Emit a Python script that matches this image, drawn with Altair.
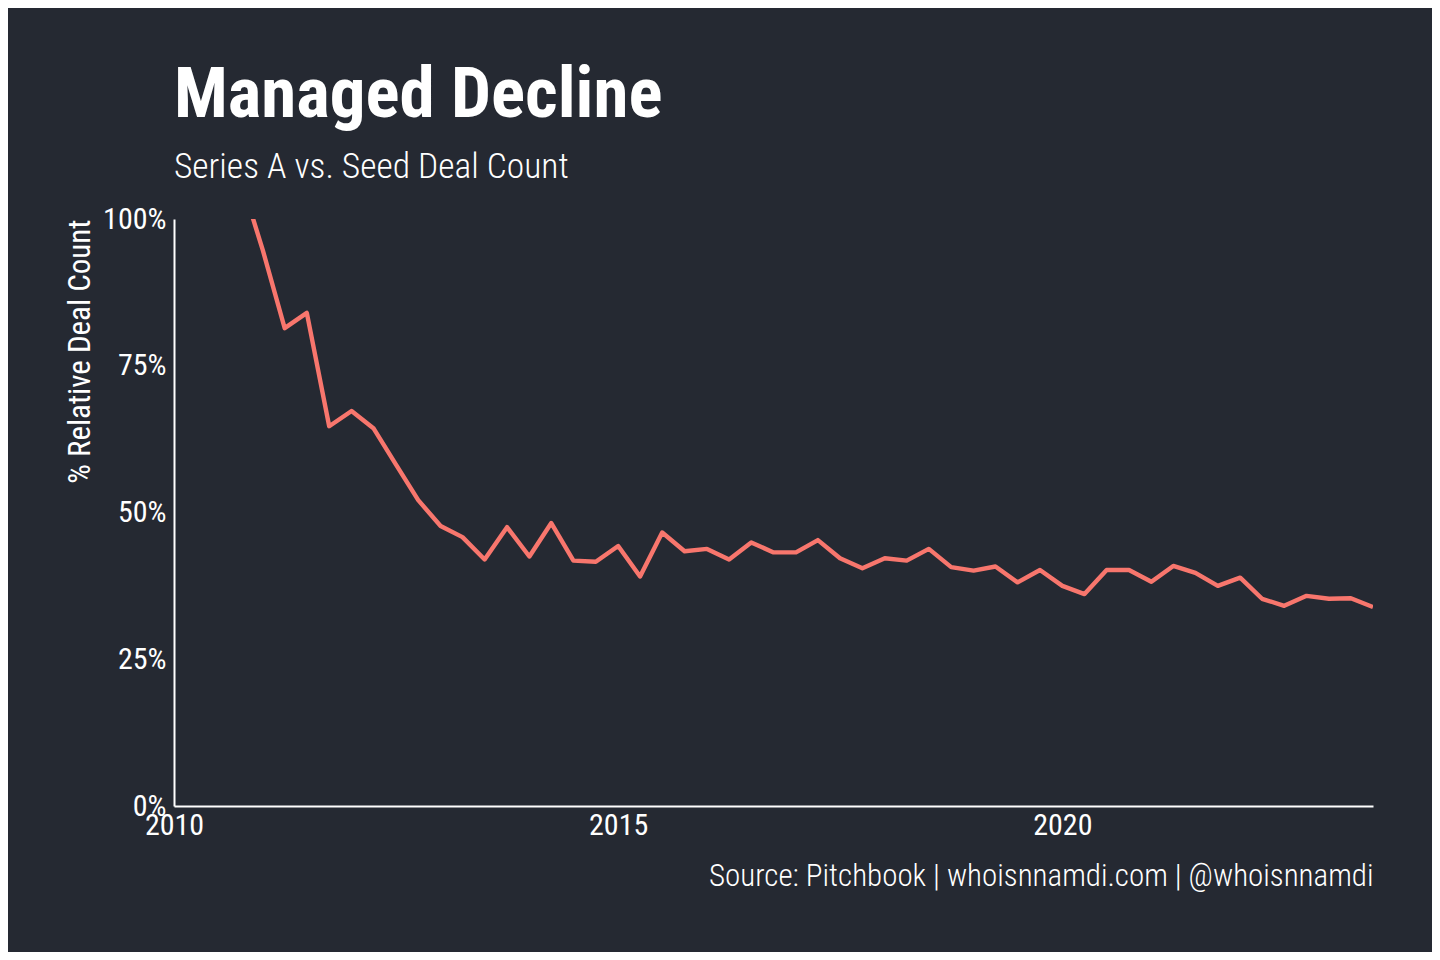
import altair as alt
import pandas as pd

# Quarterly series, starting 2010 Q4 (values in %)
start_period = "2010-10-01"
relative_deal_count = [
    107.0, 94.7, 81.4, 84.0, 64.7, 67.3, 64.3, 58.2, 52.1, 47.7,
    45.8, 42.0, 47.5, 42.5, 48.2, 41.8, 41.6, 44.3, 39.1, 46.6,
    43.4, 43.8, 42.0, 44.9, 43.2, 43.2, 45.3, 42.2, 40.5, 42.2,
    41.8, 43.8, 40.7, 40.1, 40.8, 38.1, 40.2, 37.5, 36.1, 40.2,
    40.2, 38.2, 40.9, 39.7, 37.5, 38.9, 35.3, 34.1, 35.8, 35.3,
    35.4, 33.9,
]
y_ticks = [0, 25, 50, 75, 100]
x_tick_years = [2010, 2015, 2020]
x_domain = ["2010-01-01", "2023-07-01"]

dates = pd.date_range(start_period, periods=len(relative_deal_count), freq="QS")
df = pd.DataFrame({"date": dates.strftime("%Y-%m-%d"), "value": relative_deal_count})

FONT = "Roboto Condensed, Roboto"
BG = "#252932"
WHITE = "#FFFFFF"

chart = (
    alt.Chart(df)
    .mark_line(color="#F8766D", strokeWidth=4.4, clip=True, strokeJoin="round")
    .encode(
        x=alt.X(
            "date:T",
            scale=alt.Scale(domain=x_domain),
            axis=alt.Axis(
                values=[alt.DateTime(year=y, month=1, date=1) for y in x_tick_years],
                format="%Y",
                labelFlush=False,
                title="Source: Pitchbook | whoisnnamdi.com | @whoisnnamdi",
                titleAnchor="end",
                titleFontSize=31,
                titleFontWeight=300,
                titlePadding=21,
                labelPadding=4,
            ),
        ),
        y=alt.Y(
            "value:Q",
            scale=alt.Scale(domain=[0, 100], nice=False, zero=True),
            axis=alt.Axis(
                values=y_ticks,
                labelExpr="datum.value + '%'",
                title="% Relative Deal Count",
                titleAnchor="end",
                titleFontSize=31,
                titleFontWeight=400,
                titlePadding=6,
                labelPadding=8,
            ),
        ),
    )
    .properties(
        width=1199,
        height=587,
        background=BG,
        autosize=alt.AutoSizeParams(type="none"),
        padding={"left": 166, "top": 211, "right": 59, "bottom": 146},
        title=alt.TitleParams(
            text="Managed Decline",
            subtitle="Series A vs. Seed Deal Count",
            anchor="start",
            frame="group",
            offset=18,
            subtitlePadding=18,
        ),
    )
    .configure_view(stroke=None)
    .configure_axis(
        domain=True,
        domainColor=WHITE,
        domainWidth=2,
        ticks=False,
        tickSize=0,
        grid=False,
        labelColor=WHITE,
        labelFont=FONT,
        labelFontSize=30,
        labelFontWeight=400,
        titleColor=WHITE,
        titleFont=FONT,
    )
    .configure_title(
        font=FONT,
        fontSize=71,
        fontWeight="bold",
        color=WHITE,
        subtitleFont=FONT,
        subtitleFontSize=35.5,
        subtitleFontWeight=300,
        subtitleColor=WHITE,
    )
)

chart.save("out.html", embed_options={"renderer": "svg", "actions": False})
